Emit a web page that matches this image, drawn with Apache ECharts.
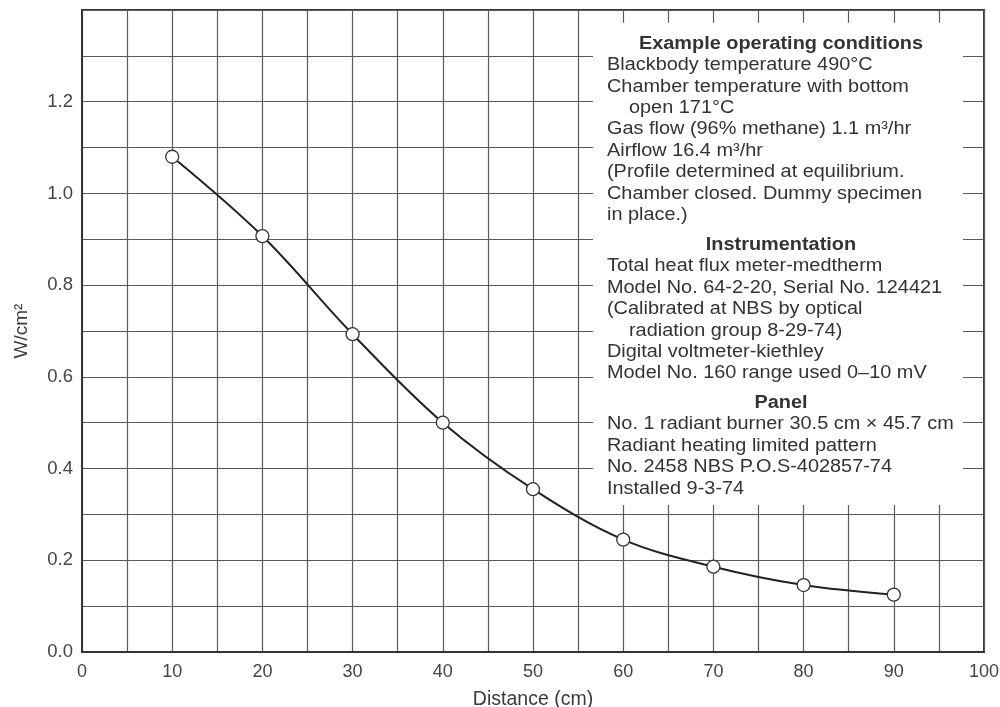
<!DOCTYPE html>
<html>
<head>
<meta charset="utf-8">
<script src="https://cdn.jsdelivr.net/npm/echarts@6/dist/echarts.min.js"></script>
<style>
  html, body { margin: 0; padding: 0; background: #fff; }
  #chart { width: 1000px; height: 707px; }
</style>
</head>
<body>
<div id="chart"></div>
<script>
// ---- Data ----
const distances = [10, 20, 30, 40, 50, 60, 70, 80, 90];
const fluxValues = [1.08, 0.907, 0.693, 0.50, 0.355, 0.245, 0.186, 0.146, 0.125];
const xTickLabels = ['0', '10', '20', '30', '40', '50', '60', '70', '80', '90', '100'];
const yTickLabels = ['0.0', '0.2', '0.4', '0.6', '0.8', '1.0', '1.2'];
const xAxisName = 'Distance (cm)';
const yAxisName = 'W/cm²';

const noteLines = [
  { t: 'Example operating conditions', k: 'head' },
  { t: 'Blackbody temperature 490°C', k: 'body' },
  { t: 'Chamber temperature with bottom', k: 'body' },
  { t: 'open 171°C', k: 'indent' },
  { t: 'Gas flow (96% methane) 1.1 m³/hr', k: 'body' },
  { t: 'Airflow 16.4 m³/hr', k: 'body' },
  { t: '(Profile determined at equilibrium.', k: 'body' },
  { t: 'Chamber closed. Dummy specimen', k: 'body' },
  { t: 'in place.)', k: 'body' },
  { t: 'Instrumentation', k: 'head' },
  { t: 'Total heat flux meter-medtherm', k: 'body' },
  { t: 'Model No. 64-2-20, Serial No. 124421', k: 'body' },
  { t: '(Calibrated at NBS by optical', k: 'body' },
  { t: 'radiation group 8-29-74)', k: 'indent' },
  { t: 'Digital voltmeter-kiethley', k: 'body' },
  { t: 'Model No. 160 range used 0–10 mV', k: 'body' },
  { t: 'Panel', k: 'head' },
  { t: 'No. 1 radiant burner 30.5 cm × 45.7 cm', k: 'body' },
  { t: 'Radiant heating limited pattern', k: 'body' },
  { t: 'No. 2458 NBS P.O.S-402857-74', k: 'body' },
  { t: 'Installed 9-3-74', k: 'body' }
];
// note box extent in data units [xmin, xmax, ymin, ymax]
const noteBox = [56.65, 97.67, 0.3205, 1.372];

const FONT = '"Liberation Sans", Arial, Helvetica, sans-serif';
const chart = echarts.init(document.getElementById('chart'));

chart.setOption({
  animation: false,
  backgroundColor: '#fff',
  grid: {
    left: 82, right: 16, top: 10, bottom: 55,
    containLabel: false, outerBoundsMode: 'none',
    show: true, borderColor: '#3a3a3a', borderWidth: 2, backgroundColor: 'transparent'
  },
  xAxis: {
    type: 'value', min: 0, max: 100, interval: 5,
    name: xAxisName, nameLocation: 'middle', nameGap: 38,
    nameTextStyle: { fontFamily: FONT, fontSize: 19.5, color: '#3a3a3a' },
    axisLine: { show: true, lineStyle: { color: '#333', width: 2 } },
    axisTick: { show: false },
    axisLabel: {
      margin: 11, fontFamily: FONT, fontSize: 18, color: '#444',
      formatter: v => { const s = String(Math.round(v)); return xTickLabels.includes(s) ? s : ''; }
    },
    splitLine: { show: true, lineStyle: { color: '#5a5a5a', width: 1.2 } }
  },
  yAxis: {
    type: 'value', min: 0, max: 1.4, interval: 0.1,
    name: yAxisName, nameLocation: 'middle', nameGap: 51, nameRotate: 90,
    nameTextStyle: { fontFamily: FONT, fontSize: 19, color: '#3a3a3a' },
    axisLine: { show: true, lineStyle: { color: '#333', width: 2 } },
    axisTick: { show: false },
    axisLabel: {
      margin: 9, fontFamily: FONT, fontSize: 18.5, color: '#444',
      formatter: v => { const s = v.toFixed(1); return yTickLabels.includes(s) ? s : ''; }
    },
    splitLine: { show: true, lineStyle: { color: '#5a5a5a', width: 1.2 } }
  },
  series: [{
    type: 'line',
    data: distances.map((d, i) => [d, fluxValues[i]]),
    smooth: 0.35,
    symbol: 'circle',
    symbolSize: 13,
    lineStyle: { color: '#222', width: 2 },
    itemStyle: { color: '#fff', borderColor: '#333', borderWidth: 1.3 },
    z: 5
  }]
});

// ---- Annotation box ----
const p0 = chart.convertToPixel({ gridIndex: 0 }, [noteBox[0], noteBox[3]]);
const p1 = chart.convertToPixel({ gridIndex: 0 }, [noteBox[1], noteBox[2]]);
const bx = p0[0], by = p0[1], bw = p1[0] - p0[0], bh = p1[1] - p0[1];
const SX = 1.137;
const elems = [{
  type: 'rect', z: 100,
  shape: { x: bx, y: by, width: bw, height: bh },
  style: { fill: '#fff' }
}];
let ty = by + 21;
noteLines.forEach((ln, i) => {
  if (i > 0) ty += (ln.k === 'head') ? 29.5 : 21.45;
  const isHead = ln.k === 'head';
  elems.push({
    type: 'text', z: 101,
    x: isHead ? bx + 188 : (ln.k === 'indent' ? bx + 36 : bx + 14),
    y: ty,
    scaleX: SX,
    style: {
      text: ln.t,
      font: (isHead ? 'bold ' : '') + '17.5px ' + FONT,
      fill: '#333',
      textAlign: isHead ? 'center' : 'left',
      textVerticalAlign: 'middle'
    }
  });
});
chart.setOption({ graphic: { elements: elems } });
</script>
</body>
</html>
